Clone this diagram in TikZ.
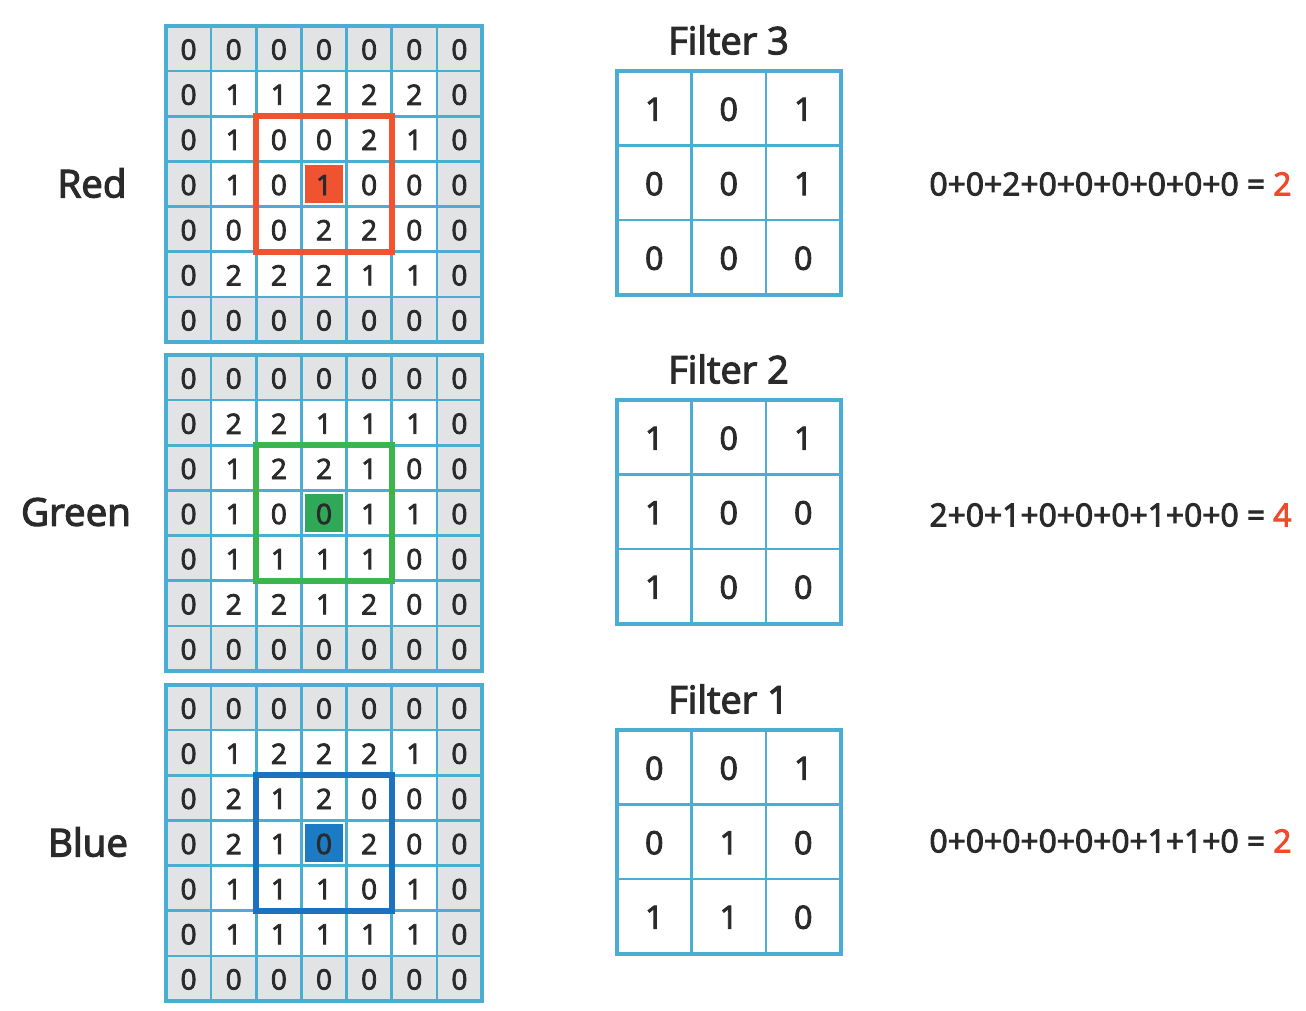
\documentclass[tikz,border=0pt]{standalone}
\usepackage{fontspec}
\setmainfont{Open Sans}[FakeBold=3]
\definecolor{gridblue}{HTML}{4AADD2}
\definecolor{padgray}{HTML}{E2E3E4}
\definecolor{txt}{HTML}{2A2A2A}
\definecolor{hlred}{HTML}{F0532F}
\definecolor{hlgreen}{HTML}{3DB54A}
\definecolor{fillgreen}{HTML}{2FA957}
\definecolor{hlblue}{HTML}{1C72C0}
\definecolor{fillblue}{HTML}{1B7BC5}
\definecolor{resred}{HTML}{EE4B2B}
\tikzset{
  gridline/.style={draw=gridblue, line width=2.6pt},
  gridouter/.style={draw=gridblue, line width=4.5pt},
  bigcell/.style={rectangle, inner sep=0pt, minimum size=45.143pt, text=txt, font=\fontsize{28}{30}\selectfont},
  filtcell/.style={rectangle, inner sep=0pt, minimum size=74.5pt, text=txt, font=\fontsize{32}{36}\selectfont},
  titletext/.style={text=txt, font=\fontsize{38}{44}\selectfont},
  chanlabel/.style={text=txt, font=\fontsize{38.5}{44}\selectfont},
  eqtext/.style={text=txt, font=\fontsize{31.8}{36}\selectfont, anchor=east},
  hlbox/.style={line width=5.6pt},
}
\newcommand\drawbiggrid[5]{%
  % #1 prefix, #2 y0, #3 data, #4 box colour, #5 centre fill colour
  \fill[padgray] (166,#2) rectangle ++(316,316);
  \fill[white] (211.143,{#2+45.143}) rectangle ++(225.714,225.714);
  \fill[#5] (304.6,{#2+138.6}) rectangle (343.4,{#2+177.4});
  \foreach \k in {1,...,6} {
    \draw[gridline] ({166+45.143*\k},#2) -- ++(0,316);
    \draw[gridline] (166,{#2+45.143*\k}) -- ++(316,0);
  }
  \draw[gridouter] (166,#2) rectangle ++(316,316);
  \foreach \row [count=\i from 0] in {#3} {
    \foreach \v [count=\j from 0] in \row {
      \node[bigcell] (#1-\i-\j) at ({166+45.143*(\j+0.5)},{#2+45.143*(\i+0.5)+1}) {\v};
    }
  }
  \draw[hlbox, draw=#4] ([yshift=1pt]#1-2-2.north west) rectangle ([yshift=1pt]#1-4-4.south east);
}
\newcommand\drawfilter[4]{%
  % #1 prefix, #2 y0, #3 title, #4 data
  \node[titletext] (#1-title) at (728.5,{#2-31}) {#3};
  \foreach \k in {1,2} {
    \draw[gridline] ({617+74.5*\k},#2) -- ++(0,223.5);
    \draw[gridline] (617,{#2+74.5*\k}) -- ++(223.5,0);
  }
  \draw[gridouter, line width=4pt] (617,#2) rectangle ++(223.5,223.5);
  \foreach \row [count=\i from 0] in {#4} {
    \foreach \v [count=\j from 0] in \row {
      \node[filtcell] (#1-\i-\j) at ({617+74.5*(\j+0.5)},{#2+74.5*(\i+0.5)+1}) {\v};
    }
  }
}
\begin{document}
\begin{tikzpicture}[x=1pt,y=-1pt]
\fill[white] (0,0) rectangle (1306,1010);
\useasboundingbox (0,0) rectangle (1306,1010);

% channel grids
\drawbiggrid{R}{26}{{0,0,0,0,0,0,0},{0,1,1,2,2,2,0},{0,1,0,0,2,1,0},{0,1,0,1,0,0,0},{0,0,0,2,2,0,0},{0,2,2,2,1,1,0},{0,0,0,0,0,0,0}}{hlred}{hlred}
\drawbiggrid{G}{355}{{0,0,0,0,0,0,0},{0,2,2,1,1,1,0},{0,1,2,2,1,0,0},{0,1,0,0,1,1,0},{0,1,1,1,1,0,0},{0,2,2,1,2,0,0},{0,0,0,0,0,0,0}}{hlgreen}{fillgreen}
\drawbiggrid{B}{685}{{0,0,0,0,0,0,0},{0,1,2,2,2,1,0},{0,2,1,2,0,0,0},{0,2,1,0,2,0,0},{0,1,1,1,0,1,0},{0,1,1,1,1,1,0},{0,0,0,0,0,0,0}}{hlblue}{fillblue}

% channel labels
\node[chanlabel] (lblR) at (92,183) {Red};
\node[chanlabel] (lblG) at (76,512) {Green};
\node[chanlabel] (lblB) at (88,842) {Blue};

% filters
\drawfilter{F3}{71}{Filter 3}{{1,0,1},{0,0,1},{0,0,0}}
\drawfilter{F2}{400}{Filter 2}{{1,0,1},{1,0,0},{1,0,0}}
\drawfilter{F1}{730}{Filter 1}{{0,0,1},{0,1,0},{1,1,0}}

% equations
\node[eqtext] (eqR) at (1295,184) {0+0+2+0+0+0+0+0+0 = \textcolor{resred}{2}};
\node[eqtext] (eqG) at (1295,515) {2+0+1+0+0+0+1+0+0 = \textcolor{resred}{4}};
\node[eqtext] (eqB) at (1295,841) {0+0+0+0+0+0+1+1+0 = \textcolor{resred}{2}};
\end{tikzpicture}
\end{document}
